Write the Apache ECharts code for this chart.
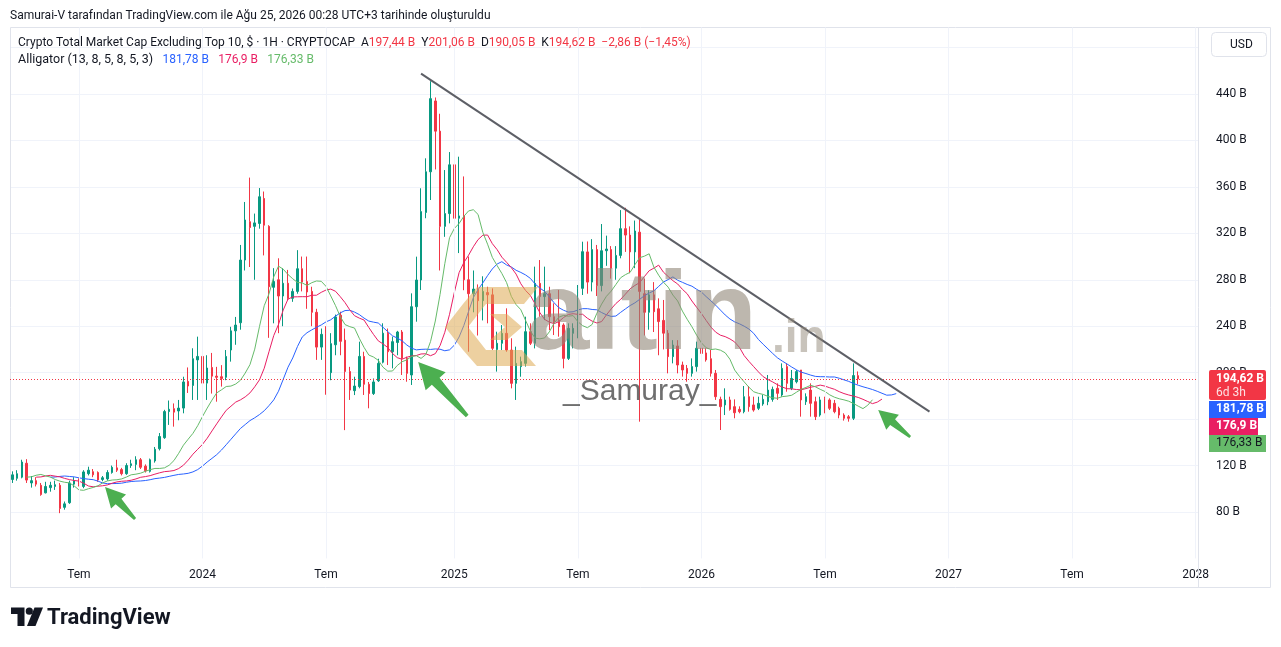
<!DOCTYPE html>
<html><head><meta charset="utf-8">
<script src="https://cdn.jsdelivr.net/npm/echarts@6/dist/echarts.min.js"></script>
<style>html,body{margin:0;padding:0;background:#fff}#c{width:1281px;height:647px}</style>
</head><body><div id="c"></div>
<script>
// ---- data ----
const firstWeek = '2023-03-27';
const weekCount = 250;
// weekly candles [open, close, low, high] in billions USD
const candles = [
[108,112,105,115],[109,113,107,116],[110,123,109,125],[122,107.5,105,125.5],[105,107,101,111],
[107,104,102,110],[103,95,94,105],[96.5,102,96,106],[101,103,97.5,106],[102,103.5,99,107],
[103,83,79,105],[84,87,82,89],[88,105,87,107],[104,107,101,110],[107,104,102,109],
[102,114.5,100.5,116],[113,116,111.5,119],[114.7,112,110,117],[114,107.6,106,115],[108,109.5,106.5,111],
[108.5,114,107,116],[114,118.5,113,120],[118,116,114.5,125],[116.5,113,111.5,118],[113,120,112,122],
[120,121.5,118,125],[121,125,116,128],[125,118.5,117,126.5],[119.5,115.5,114,121],[115,125,114,126],
[124,134,122.5,136],[134.5,145,133,148],[144,166.5,143,168],[166.5,168.5,155,176],[169,166,153.5,173.5],
[167,169.5,159,176.5],[169.5,192,165,196.5],[192.5,188.5,182.5,204.5],[189,212,176.5,221],[211,214,176.5,231],
[214,191,181,234],[191,204,176.5,215],[204.5,197,182,217],[197,196,175,205],[196.5,195,188,206.5],
[196,214,193.5,219.5],[219.5,236,209.5,239.5],[236,241,224,248],[243,297,237,310],[297,331.5,288,347],
[330,325,291,368],[326,329,280,337],[328.5,351.5,324,359],[350,327,301,356],[326,274,230,327],
[273.5,278.5,242.5,290],[280,266,234,298.5],[266,277,240,290],[277,264,262.5,288.5],[264,270,261,272.5],
[270,289.5,268,305.5],[289.5,278,270,300],[278.5,269.5,255,300],[270,252,240,274],[252,222,211,255],
[222,233,211,238],[234,200,181,240],[200,225,193.5,234],[224,248,215,250],[249.5,227,215,252.5],
[228,201,150.5,238],[201,185,176.5,205],[184.5,188.5,180.7,196.5],[188,214,186.5,226.7],[214,190,180.8,218],
[190,182,169.3,192],[182,192,180.8,195],[193,208,192,212],[209,234,208,242.5],[234,218,206.6,238],
[218,226.7,203.7,231],[226,235,215,236],[235,212.3,198,236.7],[212.3,199.4,192.2,213.8],[198,256.8,189.4,268.3],
[256.8,279.8,243.9,299.9],[279.8,338.7,271.2,358.8],[338,373,333,384.6],[373,436,348.7,451],[434,408,375,437],
[408,326,288,423],[326,337,317,374.5],[337,379,328.6,390],[379,333,320,396],[333,335,303,386],
[335,280,271,369],[280,268,218,300],[268,272,252,288],[272,262,232,276],[262,270,245,283],
[269,267,242.5,274],[267,221,219.5,272.6],[220,225.3,200.9,235.3],[225.3,233.9,219.5,241],[233.9,219.5,218,255.4],
[219.5,190.8,186.5,229.6],[190.8,208,176.5,222.4],[205.2,209.5,196.5,213.8],[208,235.3,205.2,248.2],[235.3,225.3,223.8,242.5],
[225.3,276.9,220.9,291.3],[276.9,265.5,248.2,297],[265.5,268,245.3,291.3],[268,248.2,236.7,274],[248.2,243.9,232.4,259.7],
[245.3,239.6,231,271.2],[241,212.3,203.7,242.5],[212.3,238.2,210.9,242.5],[233.9,238.2,220.9,242.5],[236.7,272.6,229.6,275.5],
[272.6,304.2,266.9,312.8],[304,278,268,313],[278,306,270,315],[306,275,266,310],[275,305,270,328],
[305,306.5,292,318],[306,290,281,309],[290,301,280,309],[301,324,298.5,340],[324,318.5,304,342],
[318.5,304,285.6,326],[304,322,290,331],[321,270,157.8,331.5],[268,252,232,281],[252,267,237,271],
[267,252.5,235,278],[255,244,215,264],[245,234,220,262.6],[234,213.8,199.4,236.7],[213.8,223.8,208,228],
[223,206.6,199.4,228],[206.6,202.3,196.6,209.5],[203.7,199.4,192.2,206.6],[199.4,205.2,196.6,212.3],[205.2,221,200.9,226.7],
[221,216.6,208,236.7],[217,211,209.5,221],[212,199.4,196.6,219.5],[199.4,179.3,176.5,202.3],[177,170.7,150.6,179.3],
[172.2,176.5,163.5,186.5],[176.5,168.4,167.3,179.3],[170.7,165.5,160.7,177],[168.4,166.4,165,171],[166.4,179.3,165,188.5],
[179.3,170.7,166.4,188.5],[172.2,167.8,166.4,179.3],[169.3,173.6,167.8,179.3],[173,177,171.5,181],[175,185,172,198],
[177,185.6,175,188],[186.5,182.2,176.5,190.8],[180.8,203.7,179.3,208],[205.2,190.8,183.6,208],[186.5,195,185,202.3],
[192.2,200.9,190.8,202.3],[202.3,176.5,162.1,202.3],[175,179.3,172.2,182.2],[185,173.6,162.1,190.8],[175,162.1,159.2,179.3],
[163.5,176.5,162.1,179.3],[177.9,172.2,165,179.3],[176.5,169.3,167.8,177.9],[173.6,166.4,165,176.5],[169.3,163.5,160.7,170.7],
[163.5,160.7,158.7,165],[162,160.7,157.8,163.5],[160.7,197.48,159.2,208],[197.44,194.62,190.05,201.06]
];
const alligatorPeriods = [13, 8, 5];   // jaw, teeth, lips
const alligatorShifts = [8, 5, 3];
const alligatorLegend = ['181,78 B', '176,9 B', '176,33 B'];
const lastBarText = ['197,44 B', '201,06 B', '190,05 B', '194,62 B', '−2,86 B (−1,45%)'];
const priceNow = 194.62;
const trendLine = [[86, 457.5], [193, 166.4]];
const arrowTips = [[19.5, 101.5], [85.4, 209.2], [182.2, 167.8]];
const arrowTailOffsets = [[30, 32], [49, 54], [32, 27]];
const yMin = 40, yMax = 497.27, yStep = 40;

// ---- categories (weekly) ----
const categories = [];
const t0 = Date.parse(firstWeek + 'T00:00:00Z');
for (let i = 0; i < weekCount; i++) categories.push(new Date(t0 + i * 7 * 86400000).toISOString().slice(0, 10));
function tickText(cat) {
  const m = +cat.slice(5, 7), d = +cat.slice(8, 10);
  if (d <= 7 && m === 1) return cat.slice(0, 4);
  if (d <= 7 && m === 7) return 'Tem';
  return null;
}
const gridCats = categories.filter(c => tickText(c) !== null);

// ---- alligator (SMMA of median price, shifted) ----
function alligatorLine(period, shift) {
  const out = new Array(weekCount).fill(null);
  let prev = null;
  candles.forEach((c, i) => {
    const med = (c[2] + c[3]) / 2;
    prev = prev === null ? med : (prev * (period - 1) + med) / period;
    if (i + shift < weekCount) out[i + shift] = +prev.toFixed(2);
  });
  return out;
}
const jaw = alligatorLine(alligatorPeriods[0], alligatorShifts[0]);
const teeth = alligatorLine(alligatorPeriods[1], alligatorShifts[1]);
const lips = alligatorLine(alligatorPeriods[2], alligatorShifts[2]);

const UP = '#089981', DOWN = '#f23645';
const option = {
  animation: false,
  backgroundColor: '#ffffff',
  grid: { left: 10, right: 83, top: 27.5, bottom: 88.56, containLabel: false },
  xAxis: {
    type: 'category', data: categories, boundaryGap: true,
    axisLine: { show: false }, axisTick: { show: false },
    axisLabel: { interval: (i, v) => tickText(v) !== null, formatter: v => tickText(v) || '',
      color: '#131722', fontSize: 12, fontFamily: 'Roboto', margin: 11, hideOverlap: false },
    splitLine: { show: false }
  },
  yAxis: {
    type: 'value', position: 'right', min: yMin, max: yMax, interval: yStep, scale: true,
    axisLine: { show: false }, axisTick: { show: false },
    axisLabel: { color: '#131722', fontSize: 12, fontFamily: 'Roboto', align: 'left', margin: 18,
      formatter: v => (v >= 80 && v <= 440 && v % 40 === 0) ? v + ' B' : '' },
    splitLine: { show: true, showMinLine: false, showMaxLine: false, lineStyle: { color: '#f0f3fa', width: 1 } }
  },
  series: [
    { type: 'line', data: [], z: 1, silent: true,
      markLine: { silent: true, symbol: ['none', 'none'], label: { show: false },
        lineStyle: { color: '#f0f3fa', width: 1, type: 'solid' },
        data: gridCats.map(c => ({ xAxis: c })) } },
    { type: 'candlestick', data: candles, barWidth: 2, z: 3,
      itemStyle: { color: UP, color0: DOWN, borderColor: UP, borderColor0: DOWN, borderWidth: 1 },
      markLine: { silent: true, symbol: ['none', 'none'], label: { show: false },
        lineStyle: { color: DOWN, width: 1, type: [1, 2] }, data: [{ yAxis: priceNow }] } },
    { type: 'line', data: jaw, showSymbol: false, z: 4, lineStyle: { color: '#2962ff', width: 1 }, itemStyle: { color: '#2962ff' } },
    { type: 'line', data: teeth, showSymbol: false, z: 4, lineStyle: { color: '#e91e63', width: 1 }, itemStyle: { color: '#e91e63' } },
    { type: 'line', data: lips, showSymbol: false, z: 4, lineStyle: { color: '#66bb6a', width: 1 }, itemStyle: { color: '#66bb6a' } },
    { type: 'line', data: trendLine, showSymbol: false, z: 5, lineStyle: { color: '#5d5f66', width: 2 }, itemStyle: { color: '#5d5f66' } }
  ]
};
const chart = echarts.init(document.getElementById('c'));
chart.setOption(option);

// ---- overlays ----
const yPx = v => chart.convertToPixel({ yAxisIndex: 0 }, v);
const x0 = chart.convertToPixel({ xAxisIndex: 0 }, 0);
const step = chart.convertToPixel({ xAxisIndex: 0 }, 1) - x0;
const xPx = i => x0 + i * step;

function arrowPts(tx, ty, px, py) {
  const dx = tx - px, dy = ty - py, L = Math.hypot(dx, dy), ux = dx / L, uy = dy / L, nx = -uy, ny = ux;
  const hl = Math.min(26, L * 0.45), hw = hl * 0.52, s1 = hl * 0.2, s2 = hl * 0.07;
  const bx = tx - ux * hl, by = ty - uy * hl;
  return [[tx, ty], [bx + nx * hw, by + ny * hw], [bx + nx * s1, by + ny * s1], [px + nx * s2, py + ny * s2],
    [px - nx * s2, py - ny * s2], [bx - nx * s1, by - ny * s1], [bx - nx * hw, by - ny * hw]];
}
const g = [];
// frame
g.push({ type: 'rect', shape: { x: 10.5, y: 27.5, width: 1260, height: 560 }, style: { fill: null, stroke: '#e0e3eb', lineWidth: 1 }, z: 1, silent: true });
g.push({ type: 'line', shape: { x1: 1198.5, y1: 27.5, x2: 1198.5, y2: 587.5 }, style: { stroke: '#e0e3eb', lineWidth: 1 }, z: 1, silent: true });
// header
g.push({ type: 'text', x: 10, y: 16, style: { text: 'Samurai-V tarafından TradingView.com ile Ağu 25, 2026 00:28 UTC+3 tarihinde oluşturuldu', font: '12px Roboto', fill: '#131722', verticalAlign: 'middle' }, z: 100 });
g.push({ type: 'text', x: 18, y: 43, style: {
  text: '{k|Crypto Total Market Cap Excluding Top 10, $ · 1H · CRYPTOCAP  A}{r|' + lastBarText[0] + '}{k|  Y}{r|' + lastBarText[1] + '}{k|  D}{r|' + lastBarText[2] + '}{k|  K}{r|' + lastBarText[3] + '}{r|  ' + lastBarText[4] + '}',
  verticalAlign: 'middle',
  rich: { k: { fill: '#131722', fontSize: 12, fontFamily: 'Roboto' }, r: { fill: '#f23645', fontSize: 12, fontFamily: 'Roboto' } } }, z: 100 });
g.push({ type: 'text', x: 18, y: 60, style: {
  text: '{k|Alligator (13, 8, 5, 8, 5, 3)   }{b|' + alligatorLegend[0] + '}{k|   }{p|' + alligatorLegend[1] + '}{k|   }{g|' + alligatorLegend[2] + '}',
  verticalAlign: 'middle',
  rich: { k: { fill: '#131722', fontSize: 12.5, fontFamily: 'Roboto' }, b: { fill: '#2962ff', fontSize: 12, fontFamily: 'Roboto' },
    p: { fill: '#e91e63', fontSize: 12, fontFamily: 'Roboto' }, g: { fill: '#66bb6a', fontSize: 12, fontFamily: 'Roboto' } } }, z: 100 });
// USD button
g.push({ type: 'rect', shape: { x: 1211.5, y: 32.5, width: 55, height: 24, r: 4 }, style: { fill: '#fff', stroke: '#e0e3eb' }, z: 100 });
g.push({ type: 'text', x: 1230, y: 45, style: { text: 'USD', font: '12px Roboto', fill: '#131722', verticalAlign: 'middle' }, z: 101 });
// watermark
const gold = 'rgba(222,170,82,0.55)';
[[[477, 287], [538, 287], [524, 304], [463, 304]],
 [[463, 304], [486, 304], [468, 327], [486, 350], [463, 350], [445, 327]],
 [[463, 350], [522, 350], [536, 366], [477, 366]],
 [[490, 314], [507, 314], [522, 327], [507, 340], [490, 340], [505, 327]]].forEach(p =>
  g.push({ type: 'polygon', shape: { points: p }, style: { fill: gold }, z: 50, silent: true }));
g.push({ type: 'text', x: 527, y: 318, style: { text: 'altin', font: 'bold 112px "Liberation Sans"', fill: 'rgba(145,135,120,0.6)', verticalAlign: 'middle' }, z: 50, silent: true });
g.push({ type: 'text', x: 772, y: 339.4, style: { text: '.in', font: 'bold 46px "Liberation Sans"', fill: 'rgba(145,135,120,0.5)', verticalAlign: 'middle' }, z: 50, silent: true });
g.push({ type: 'text', x: 563, y: 392, style: { text: '_Samuray_', font: '30px "Liberation Sans"', fill: 'rgba(95,95,95,0.9)', verticalAlign: 'middle' }, z: 51, silent: true });
// arrows
arrowTips.forEach((t, k) => {
  const tx = xPx(t[0]), ty = yPx(t[1]);
  g.push({ type: 'polygon', shape: { points: arrowPts(tx, ty, tx + arrowTailOffsets[k][0], ty + arrowTailOffsets[k][1]) }, style: { fill: '#4caf50' }, z: 60, silent: true });
});
// price tags
const py = yPx(priceNow);
const tagTop = py - 9;
g.push({ type: 'rect', shape: { x: 1209, y: tagTop, width: 57, height: 30, r: 2 }, style: { fill: '#f23645' }, z: 100 });
g.push({ type: 'text', x: 1216, y: tagTop + 9.5, style: { text: lastBarText[3], font: 'bold 12px Roboto', fill: '#fff', verticalAlign: 'middle' }, z: 101 });
g.push({ type: 'text', x: 1216, y: tagTop + 23, style: { text: '6d 3h', font: '12px Roboto', fill: 'rgba(255,255,255,0.85)', verticalAlign: 'middle' }, z: 101 });
const tagDefs = [[alligatorLegend[0], '#2962ff', '#ffffff', 57], [alligatorLegend[1], '#e91e63', '#ffffff', 49], [alligatorLegend[2], '#66bb6a', '#131722', 57]];
let ty0 = tagTop + 31;
tagDefs.forEach(d => {
  g.push({ type: 'rect', shape: { x: 1209, y: ty0, width: d[3], height: 17 }, style: { fill: d[1] }, z: 100 });
  g.push({ type: 'text', x: 1216, y: ty0 + 8.5, style: { text: d[0], font: (d[2] === '#ffffff' ? 'bold ' : '') + '12px Roboto', fill: d[2], verticalAlign: 'middle' }, z: 101 });
  ty0 += 17;
});
// TradingView logo
g.push({ type: 'polygon', shape: { points: [[11, 607.5], [24.5, 607.5], [24.5, 626], [17.5, 626], [17.5, 614], [11, 614]] }, style: { fill: '#131722' }, z: 100 });
g.push({ type: 'circle', shape: { cx: 29.3, cy: 611.2, r: 3.6 }, style: { fill: '#131722' }, z: 100 });
g.push({ type: 'polygon', shape: { points: [[34.5, 607.5], [43, 607.5], [35.5, 626], [27, 626]] }, style: { fill: '#131722' }, z: 100 });
g.push({ type: 'text', x: 47, y: 618, style: { text: 'TradingView', font: 'bold 22px Roboto', fill: '#131722', verticalAlign: 'middle' }, z: 100 });

chart.setOption({ graphic: g });
</script>
</body></html>
